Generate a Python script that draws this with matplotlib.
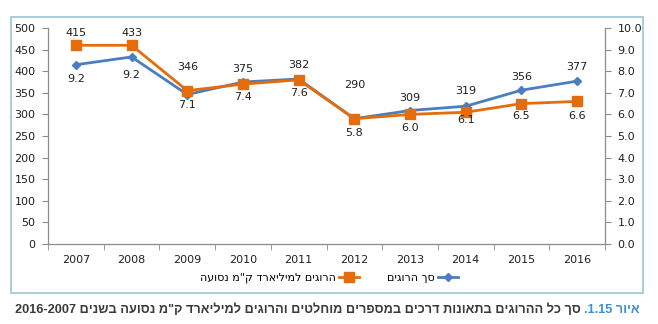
import numpy as np
import matplotlib
matplotlib.use('Agg')
import matplotlib.pyplot as plt
from matplotlib.patches import Rectangle
from matplotlib.lines import Line2D

plt.rcParams['font.family'] = ['DejaVu Sans']

# data
years = ['2007', '2008', '2009', '2010', '2011', '2012', '2013', '2014', '2015', '2016']
killed = [415, 433, 346, 375, 382, 290, 309, 319, 356, 377]
killed_per_bkm = [9.2, 9.2, 7.1, 7.4, 7.6, 5.8, 6.0, 6.1, 6.5, 6.6]

# hebrew strings in visual (left-to-right) order, matplotlib has no bidi
lbl_killed = 'סך הרוגים'[::-1]
lbl_rate = 'הרוגים למיליארד ק"מ נסועה'[::-1]
cap_blue = '.1.15 ' + 'איור'[::-1]
cap_dark = '2016-2007 ' + 'סך כל ההרוגים בתאונות דרכים במספרים מוחלטים והרוגים למיליארד ק"מ נסועה בשנים'[::-1] + ' '

# label offsets in px (manual placement as in the source)
off_killed = [-32, -24, -28, -13, -14, -34, -13, -15, -13, -14]
off_rate = [34, 30, 14, 13, 13, 14, 14, 8, 12, 15]

BLUE = '#4a7ebf'; ORANGE = '#e46c0a'; AXC = '#8c8c8c'; TXT = '#1f1f1f'
W, H = 658, 324
fig = plt.figure(figsize=(W/100, H/100), dpi=100, facecolor='white')
fig.patches.append(Rectangle((10.5/W, 31/H), (643-10.5)/W, (307-31)/H, transform=fig.transFigure,
                             fill=False, ec='#9cc3d5', lw=1.2))
ax = fig.add_axes([48/W, 80/H, (605-48)/W, (244-28)/H])
ax2 = ax.twinx()
x = np.arange(len(years))

ax.plot(x, killed, color=BLUE, lw=2, marker='D', ms=4.5, zorder=3)
ax2.plot(x, killed_per_bkm, color=ORANGE, lw=2, marker='s', ms=6.5, zorder=3)

ax.set_xlim(-0.5, len(years)-0.5)
ax.set_ylim(0, 500); ax.set_yticks(np.arange(0, 501, 50))
ax2.set_ylim(0, 10); ax2.set_yticks(np.arange(0, 10.1, 1))
ax2.set_yticklabels([f'{v:.1f}' for v in np.arange(0, 10.1, 1)])
ax.set_xticks(x); ax.set_xticklabels(years)
ax.set_xticks(np.arange(-0.5, len(years)), minor=True)
ax.tick_params(axis='x', which='major', length=0, pad=8, labelsize=8, colors=TXT)
ax.tick_params(axis='x', which='minor', length=4, color=AXC, direction='out')
ax.tick_params(axis='y', length=4, color=AXC, labelsize=8, labelcolor=TXT, pad=5)
ax2.tick_params(axis='y', length=4, color=AXC, labelsize=8, labelcolor=TXT, pad=5)
for a in (ax, ax2):
    a.spines['top'].set_visible(False)
    for s in ('left', 'right', 'bottom'):
        a.spines[s].set_color(AXC); a.spines[s].set_linewidth(0.9)
ax.spines['right'].set_visible(False)
ax2.spines['left'].set_visible(False); ax2.spines['bottom'].set_visible(False)

for i in range(len(years)):
    ax.annotate(str(killed[i]), (x[i], killed[i]), xytext=(0, -off_killed[i]*0.72), textcoords='offset points',
                ha='center', va='center', fontsize=8, color=TXT)
    ax2.annotate(f'{killed_per_bkm[i]:.1f}', (x[i], killed_per_bkm[i]), xytext=(0, -off_rate[i]*0.72),
                 textcoords='offset points', ha='center', va='center', fontsize=8, color=TXT)

h_blue = Line2D([], [], color=BLUE, lw=2, marker='D', ms=4.5)
h_or = Line2D([], [], color=ORANGE, lw=2, marker='s', ms=6.5)
fig.legend([h_or, h_blue], [lbl_rate, lbl_killed], loc='center', bbox_to_anchor=(0.5, 46/H), ncol=2,
           frameon=False, fontsize=8, markerfirst=False, handlelength=1.8, columnspacing=2.5, handletextpad=0.3)

# caption, right aligned as in RTL layout; font size chosen so it spans x=15..640
r = fig.canvas.get_renderer()
capfont = dict(fontweight='bold', family=['Liberation Sans', 'DejaVu Sans'], va='center', ha='right')
t1 = fig.text(0, 0, cap_dark + cap_blue, fontsize=10, **capfont)
wfull = t1.get_window_extent(r).width
t1.remove()
fs = 10 * (640 - 15) / wfull
tb = fig.text(640/W, 14/H, cap_blue, color='#3a8fd0', fontsize=fs, **capfont)
bb = tb.get_window_extent(r)
fig.text(bb.x0/W, 14/H, cap_dark, color='#3a3a3a', fontsize=fs, **capfont)

fig.savefig('out.png', dpi=100, facecolor='white')
